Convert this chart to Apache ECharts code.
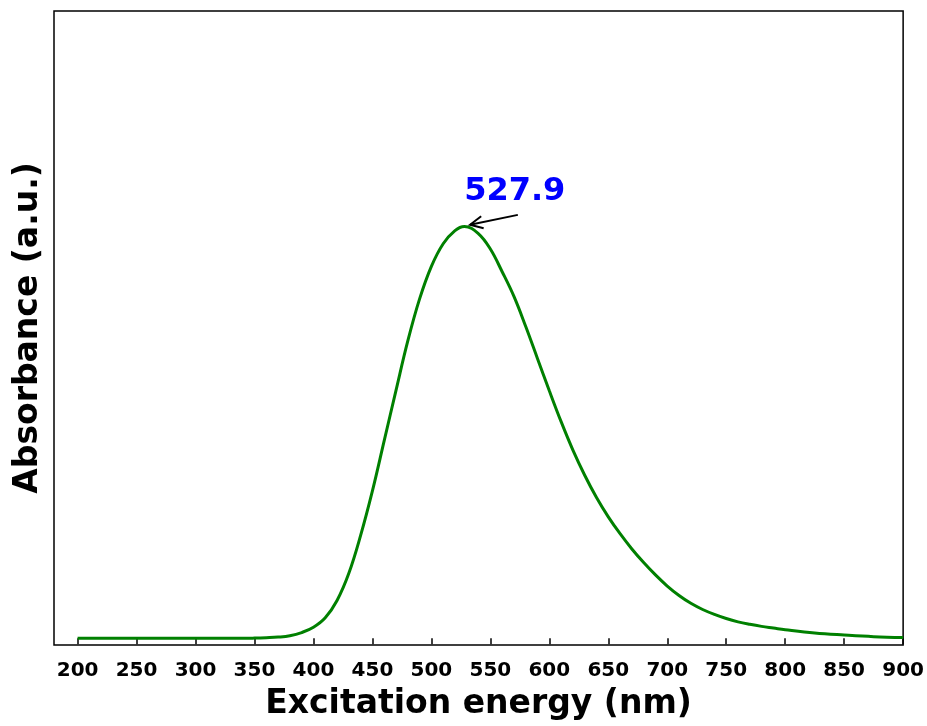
<!DOCTYPE html>
<html>
<head>
<meta charset="utf-8">
<script src="https://cdn.jsdelivr.net/npm/echarts@6/dist/echarts.min.js"></script>
<style>html,body{margin:0;padding:0;background:#fff}#c{width:927px;height:726px}</style>
</head>
<body>
<div id="c"></div>
<script>
// Wavelength (nm) and normalized absorbance
const wavelengths = [200,250,300,340,350,360,370,380,390,400,410,420,430,440,450,460,470,480,490,500,510,520,528,540,550,560,570,580,590,600,610,620,630,640,650,660,670,680,690,700,710,720,730,740,750,760,770,780,790,800,825,850,875,900];
const absorbance  = [0,0,0,0,0.0005,0.0015,0.003,0.0063,0.014,0.027,0.050,0.092,0.158,0.250,0.358,0.480,0.602,0.722,0.824,0.903,0.958,0.990,1.0,0.982,0.945,0.890,0.830,0.757,0.679,0.601,0.526,0.457,0.396,0.342,0.295,0.254,0.217,0.184,0.154,0.127,0.104,0.085,0.070,0.058,0.048,0.040,0.034,0.029,0.025,0.021,0.013,0.008,0.004,0.002];
const xTicks = [200,250,300,350,400,450,500,550,600,650,700,750,800,850,900];
const peakLabel = "527.9";
const arrowTail = [573.3, 1.028];
const arrowHead = [532.8, 1.004];
const labelPos = [570.7, 1.085];

const font = "'DejaVu Sans', sans-serif";
const chart = echarts.init(document.getElementById('c'), null, {renderer:'canvas'});
const option = {
  animation:false,
  backgroundColor:'#fff',
  grid:{left:54,right:22,top:11,bottom:80,show:true,borderColor:'#000',borderWidth:1.5,backgroundColor:'transparent'},
  xAxis:{
    type:'value',min:180,max:900,
    name:'Excitation energy (nm)',nameLocation:'middle',nameGap:43,
    nameTextStyle:{fontFamily:font,fontWeight:'bold',fontSize:33,color:'#000'},
    axisLine:{show:false},
    axisTick:{show:true,length:6,inside:false,lineStyle:{color:'#000',width:1.5},customValues:xTicks},
    axisLabel:{show:true,fontFamily:font,fontWeight:'bold',fontSize:20,color:'#000',margin:16,customValues:xTicks},
    splitLine:{show:false}
  },
  yAxis:{
    type:'value',min:-0.0162,max:1.523,
    name:'Absorbance (a.u.)',nameLocation:'middle',nameGap:9,nameRotate:90,
    nameTextStyle:{fontFamily:font,fontWeight:'bold',fontSize:33,color:'#000'},
    axisLine:{show:false},axisTick:{show:false},axisLabel:{show:false},splitLine:{show:false}
  },
  series:[{
    type:'line',
    data:wavelengths.map((w,i)=>[w,absorbance[i]]),
    symbol:'none',smooth:0.4,
    lineStyle:{color:'#008000',width:3}
  }]
};
chart.setOption(option);

const t = chart.convertToPixel({gridIndex:0}, arrowTail);
const h = chart.convertToPixel({gridIndex:0}, arrowHead);
const lp = chart.convertToPixel({gridIndex:0}, labelPos);
const ang = Math.atan2(t[1]-h[1], t[0]-h[0]);
const L = 14, spread = 0.45;
const a1 = [h[0]+L*Math.cos(ang+spread), h[1]+L*Math.sin(ang+spread)];
const a2 = [h[0]+L*Math.cos(ang-spread), h[1]+L*Math.sin(ang-spread)];
chart.setOption({graphic:[
  {type:'line',shape:{x1:t[0],y1:t[1],x2:h[0],y2:h[1]},style:{stroke:'#000',lineWidth:2},z:100},
  {type:'polyline',shape:{points:[a1,h,a2]},style:{stroke:'#000',lineWidth:2,fill:null},z:100},
  {type:'text',x:lp[0],y:lp[1],style:{text:peakLabel,fill:'#0000ff',font:"bold 32px 'DejaVu Sans'",textAlign:'center',textVerticalAlign:'middle'},z:100}
]});
</script>
</body>
</html>
